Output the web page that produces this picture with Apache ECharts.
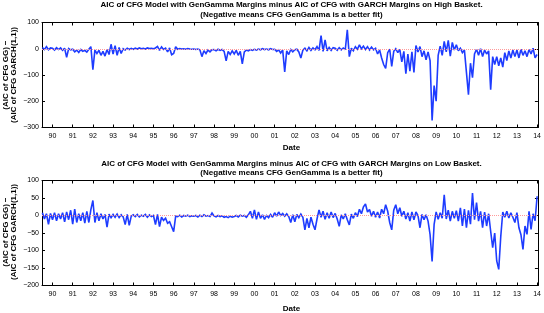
<!DOCTYPE html>
<html>
<head>
<meta charset="utf-8">
<script src="https://cdn.jsdelivr.net/npm/echarts@6/dist/echarts.min.js"></script>
<style>
  html, body { margin: 0; padding: 0; background: #fff; }
  #main { width: 544px; height: 313px; }
</style>
</head>
<body>
<div id="main"></div>
<script>
// values, one every 0.1 year starting mid 1989
const startYear = 1989.5
const step = 0.1
const yearTicks = [1990, 1991, 1992, 1993, 1994, 1995, 1996, 1997, 1998, 1999, 2000, 2001, 2002,
  2003, 2004, 2005, 2006, 2007, 2008, 2009, 2010, 2011, 2012, 2013, 2014]

const highBasket = [
  5, -3, 8, -4, 3, // 89
  2, -5, 4, -3, 3, -6, 2, -33, 1, -4, // 90
  -2, -12, -5, -14, -3, -10, -6, -13, -2, 8,
  -80, -5, -18, -6, -25, -10, -28, -3, -22, 17,
  -20, 12, -25, 5, -18, 0, -5, 2, -3, 1,
  -2, 2, -1, 3, 0, 2, -1, 3, 1, 2,
  0, 3, 9, -6, 7, -3, 2, -12, 3, -23, // 95
  -18, 8, -2, 1, -1, 0, -2, 1, -1, -2,
  -1, -3, -1, -4, -30, -8, -18, -5, -12, -4,
  -3, -8, -2, -6, -3, -10, -46, -10, -22, -8,
  -20, -6, -25, -10, -58, -12, -5, -8, -3, -6,
  -2, -5, -1, -4, 0, -3, -1, -4, 0, -3, // 00
  -2, -10, -4, -16, -5, -88, -8, -22, -3, -12,
  -4, -2, -12, -35, -5, 2, -8, 5, -6, 3,
  -4, 8, -6, 50, -10, 34, -8, 5, -6, 4,
  2, -6, 4, -4, 3, -3, 72, -30, 2, -8,
  8, -2, 15, 0, 10, -3, 8, -5, 6, -4, // 05
  2, -20, -5, -35, -60, -75, -15, -2, -67, -10,
  0, -15, -3, -50, -10, -95, -20, -85, -12, -90,
  12, -12, 8, -30, -8, -42, -12, -45, -273, -140,
  -200, -25, 10, -25, 28, -12, 32, -28, 24, -5,
  15, -8, 2, -15, -5, -90, -175, -55, -110, -20, // 10
  -2, -25, 0, -30, -5, -20, -8, -156, -30, -60,
  -30, -65, -35, -70, -15, -45, -8, -35, -5, -30,
  -5, -35, -2, -25, -8, -30, -3, -20, 2, -35,
  -22 // 14
]

const lowBasket = [
  8, -10, 5, -25, 6, // 89
  -12, 8, -15, 5, -10, 8, -18, 10, -12, 15, // 90
  -25, 18, -20, 5, -15, 8, -22, 12, -20, 17,
  43, -20, 8, -15, 5, -10, 3, -33, 4, -6,
  3, -5, 4, -6, 2, -4, -26, 3, -28, -2,
  2, -3, 3, -4, 1, -2, 3, -5, 2, -3,
  0, -26, 3, -32, -5, -14, -8, -22, -18, -32, // 95
  -46, -2, -3, 1, -4, 0, -2, 1, -3, -1,
  -2, 0, -4, 1, -3, 2, -2, 0, -3, 7,
  -1, -4, 0, -3, -1, -5, -3, -6, -2, -5,
  -3, 0, -4, 1, -2, 0, -5, 2, 12, -8,
  16, -11, 10, -8, 2, -11, 0, -6, 3, -5, // 00
  8, -2, 10, 0, 6, -2, 5, -3, -20, 2,
  -18, 3, -6, 4, -5, -41, -8, -35, -5, -25,
  -41, -10, 16, -5, 12, -11, 8, -8, 10, -6,
  6, -10, -31, 2, -10, 5, -12, -27, 4, -8,
  8, -3, 18, 5, 25, 33, 10, 17, -2, 12, // 05
  -5, 10, -7, 18, 5, 31, 12, -20, -41, 15,
  31, 5, 22, -2, 12, -10, 8, -16, 10, -12,
  10, 0, -35, 3, -12, 2, -16, -55, -131, -25,
  10, -11, 8, -8, 59, -10, 15, -16, 12, -8,
  14, -16, 22, -30, 18, -35, 15, -25, 64, -12, // 10
  37, -16, 12, -35, 10, -30, 5, -45, -92, -50,
  -130, -154, -60, 10, -5, 12, -7, 8, -5, -20,
  8, -35, -55, -97, -30, -54, 12, -40, 5, -15,
  55 // 14
]

const titles = [
  'AIC of CFG Model with GenGamma Margins minus AIC of CFG with GARCH Margins on High Basket.\n(Negative means CFG GenGamma is a better fit)',
  'AIC of CFG Model with GenGamma Margins minus AIC of CFG with GARCH Margins on Low Basket.\n(Negative means CFG GenGamma is a better fit)',
]
const yTitle = '(AIC of CFG GG) \u2212\n(AIC of CFG GARCH(1,1))'

const font = 'Liberation Sans, Arial, Helvetica, sans-serif'
const blue = '#1e3cff'
const xMin = 1989.48
const xMax = 2014.04

const toPoints = (arr) => arr.map((v, i) => [+(startYear + i * step).toFixed(2), v])

function xAxes(gridIndex) {
  const base = {
    type: 'value',
    gridIndex: gridIndex,
    min: xMin,
    max: xMax,
    splitLine: { show: false },
    axisLine: { onZero: false, lineStyle: { color: '#000', width: 1 } },
    axisTick: { inside: true, length: 3, customValues: yearTicks, lineStyle: { color: '#000' } },
  }
  return [
    Object.assign({}, base, {
      position: 'bottom',
      axisLabel: {
        customValues: yearTicks,
        formatter: (v) => String(Math.round(v) % 100).padStart(2, '0'),
        fontSize: 7,
        margin: 5,
        color: '#000',
        fontFamily: font,
      },
    }),
    Object.assign({}, base, { position: 'top', axisLabel: { show: false } }),
  ]
}

function yAxes(gridIndex, min, max, interval) {
  const base = {
    type: 'value',
    gridIndex: gridIndex,
    min: min,
    max: max,
    interval: interval,
    splitLine: { show: false },
    axisLine: { show: true, onZero: false, lineStyle: { color: '#000', width: 1 } },
    axisTick: { show: true, inside: true, length: 3, lineStyle: { color: '#000' } },
  }
  return [
    Object.assign({}, base, {
      position: 'left',
      axisLabel: {
        formatter: (v) => String(v).replace('-', '\u2212'),
        fontSize: 7,
        margin: 3,
        color: '#000',
        fontFamily: font,
      },
    }),
    Object.assign({}, base, { position: 'right', axisLabel: { show: false } }),
  ]
}

function zeroLine(xi, yi) {
  return {
    type: 'line',
    xAxisIndex: xi,
    yAxisIndex: yi,
    data: [],
    z: 1,
    markLine: {
      silent: true,
      symbol: 'none',
      animation: false,
      label: { show: false },
      lineStyle: { type: 'dotted', color: '#ff9a9a', width: 1 },
      data: [{ yAxis: 0 }],
    },
  }
}

function blueLine(xi, yi, arr) {
  return {
    type: 'line',
    xAxisIndex: xi,
    yAxisIndex: yi,
    data: toPoints(arr),
    showSymbol: false,
    z: 2,
    lineStyle: { color: blue, width: 1.6, join: 'miter', miterLimit: 2 },
    itemStyle: { color: blue },
  }
}

const textStyle = { fontSize: 8, fontWeight: 'bold', fontFamily: font, fill: '#000' }

let myChart = echarts.init(document.getElementById('main'))
let option = {
  animation: false,
  backgroundColor: '#fff',
  title: [
    { text: titles[0], left: 291.5, top: 0, padding: 0, textAlign: 'center',
      textStyle: { fontSize: 8, fontWeight: 'bold', fontFamily: font, color: '#000', lineHeight: 10 } },
    { text: titles[1], left: 291.5, top: 158.5, padding: 0, textAlign: 'center',
      textStyle: { fontSize: 8, fontWeight: 'bold', fontFamily: font, color: '#000', lineHeight: 9.6 } },
  ],
  grid: [
    { left: 42, right: 3, top: 22.5, height: 105 },
    { left: 42, right: 3, top: 180.5, height: 105 },
  ],
  xAxis: xAxes(0).concat(xAxes(1)),
  yAxis: yAxes(0, -300, 100, 100).concat(yAxes(1, -200, 100, 50)),
  graphic: [
    { type: 'text', x: 291.5, y: 148, style: Object.assign({ text: 'Date', align: 'center', verticalAlign: 'middle' }, textStyle) },
    { type: 'text', x: 291.5, y: 309, style: Object.assign({ text: 'Date', align: 'center', verticalAlign: 'middle' }, textStyle) },
    { type: 'text', x: 10, y: 75, rotation: Math.PI / 2,
      style: Object.assign({ text: yTitle, align: 'center', verticalAlign: 'middle', lineHeight: 8.5 }, textStyle) },
    { type: 'text', x: 10, y: 232, rotation: Math.PI / 2,
      style: Object.assign({ text: yTitle, align: 'center', verticalAlign: 'middle', lineHeight: 8.5 }, textStyle) },
  ],
  series: [
    zeroLine(0, 0),
    blueLine(0, 0, highBasket),
    zeroLine(2, 2),
    blueLine(2, 2, lowBasket),
  ],
}

myChart.setOption(option)
window.addEventListener('resize', function () {
  myChart.resize()
})
</script>
</body>
</html>
